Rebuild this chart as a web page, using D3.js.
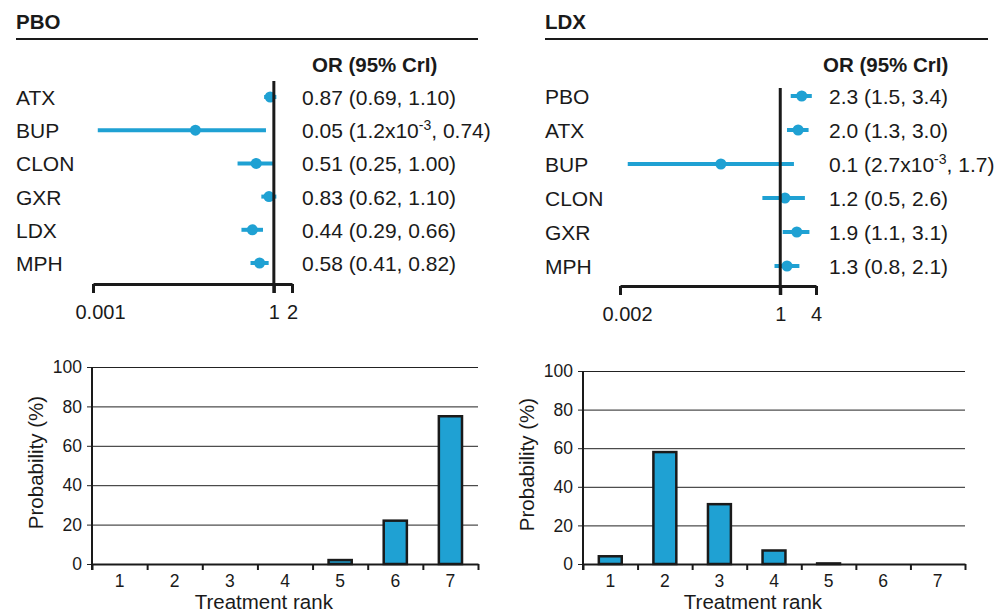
<!DOCTYPE html>
<html>
<head>
<meta charset="utf-8">
<script src="https://cdn.jsdelivr.net/npm/d3@7"></script>
<style>
  body { margin: 0; background: #fff; }
  svg { font-family: "Liberation Sans", Arial, sans-serif; }
</style>
</head>
<body>
<svg id="chart" width="1005" height="613"></svg>
<script>
// ---- data ----
const pboDrugs = ["ATX", "BUP", "CLON", "GXR", "LDX", "MPH"];
const pboOR = [0.87, 0.05, 0.51, 0.83, 0.44, 0.58];
const pboLow = [0.69, 0.0012, 0.25, 0.62, 0.29, 0.41];
const pboHigh = [1.10, 0.74, 1.00, 1.10, 0.66, 0.82];
const pboText = [
  "0.87 (0.69, 1.10)",
  "0.05 (1.2x10^-3, 0.74)",
  "0.51 (0.25, 1.00)",
  "0.83 (0.62, 1.10)",
  "0.44 (0.29, 0.66)",
  "0.58 (0.41, 0.82)",
];
const pboTicks = [0.001, 1, 2];

const ldxDrugs = ["PBO", "ATX", "BUP", "CLON", "GXR", "MPH"];
const ldxOR = [2.3, 2.0, 0.1, 1.2, 1.9, 1.3];
const ldxLow = [1.5, 1.3, 0.0027, 0.5, 1.1, 0.8];
const ldxHigh = [3.4, 3.0, 1.7, 2.6, 3.1, 2.1];
const ldxText = [
  "2.3 (1.5, 3.4)",
  "2.0 (1.3, 3.0)",
  "0.1 (2.7x10^-3, 1.7)",
  "1.2 (0.5, 2.6)",
  "1.9 (1.1, 3.1)",
  "1.3 (0.8, 2.1)",
];
const ldxTicks = [0.002, 1, 4];

const ranks = [1, 2, 3, 4, 5, 6, 7];
const probTicks = [0, 20, 40, 60, 80, 100];
const pboRankProb = [0, 0, 0, 0, 2, 22, 75];
const ldxRankProb = [4, 58, 31, 7, 0.3, 0, 0];

const blue = "#1fa1d3";
const ink = "#1a1a1a";
const fs = 21; // main text size
const svg = d3.select("#chart");

// write "a^-3b" with a raised exponent
function richText(sel, str) {
  const m = str.match(/^(.*)\^(-?\d+)(.*)$/);
  if (!m) { sel.text(str); return; }
  sel.append("tspan").text(m[1]);
  sel.append("tspan").attr("font-size", 14).attr("dy", -8).text(m[2]);
  sel.append("tspan").attr("dy", 8).text(m[3]);
}

/**
 * Forest plot of odds ratios on a log axis
 */
function forestPlot(cfg) {
  const g = svg.append("g");
  const rows = cfg.drugs.map((d, i) => ({
    drug: d, or: cfg.or[i], lo: cfg.low[i], hi: cfg.high[i], txt: cfg.text[i]
  }));

  // title and rule
  g.append("text")
    .attr("x", cfg.left).attr("y", 29)
    .attr("font-size", 20.5).attr("font-weight", "bold").attr("fill", ink)
    .text(cfg.title);
  g.append("line")
    .attr("x1", cfg.left).attr("x2", cfg.right)
    .attr("y1", 39).attr("y2", 39)
    .attr("stroke", ink).attr("stroke-width", 2);
  g.append("text")
    .attr("x", cfg.headX).attr("y", 72)
    .attr("font-size", 20.5).attr("font-weight", "bold").attr("fill", ink)
    .text("OR (95% CrI)");

  const x = d3.scaleLog()
    .domain([cfg.ticks[0], cfg.ticks[cfg.ticks.length - 1]])
    .range(cfg.xRange);
  const y = d3.scalePoint().domain(cfg.drugs).range(cfg.yRange);

  // bottom axis
  const axisG = g.append("g")
    .attr("transform", `translate(0,${cfg.axisY})`)
    .call(d3.axisBottom(x)
      .tickValues(cfg.ticks)
      .tickSize(9)
      .tickSizeOuter(0)
      .tickPadding(12)
      .tickFormat(d => String(d)));
  axisG.select(".domain").attr("stroke", ink).attr("stroke-width", 3);
  axisG.selectAll(".tick line").attr("stroke", ink).attr("stroke-width", 3);
  axisG.selectAll(".tick text")
    .attr("font-size", 20).attr("fill", ink)
    .attr("font-family", "Liberation Sans, Arial, sans-serif")
    .attr("dx", (d, i) => (i === 0 ? 7 : 0));

  // CI lines and points
  g.selectAll(".ci")
    .data(rows)
    .join("line")
    .attr("class", "ci")
    .attr("x1", d => x(d.lo)).attr("x2", d => x(d.hi))
    .attr("y1", d => y(d.drug)).attr("y2", d => y(d.drug))
    .attr("stroke", blue).attr("stroke-width", 4);
  g.selectAll(".pt")
    .data(rows)
    .join("circle")
    .attr("class", "pt")
    .attr("cx", d => x(d.or)).attr("cy", d => y(d.drug))
    .attr("r", 5.5).attr("fill", blue);

  // line of no effect
  g.append("line")
    .attr("x1", x(1)).attr("x2", x(1))
    .attr("y1", cfg.vTop).attr("y2", cfg.axisY + 9)
    .attr("stroke", ink).attr("stroke-width", 3);

  // row labels and values
  g.selectAll(".lab")
    .data(rows)
    .join("text")
    .attr("class", "lab")
    .attr("x", cfg.left).attr("y", d => y(d.drug) + 8)
    .attr("font-size", fs).attr("fill", ink)
    .text(d => d.drug);
  g.selectAll(".val")
    .data(rows)
    .join("text")
    .attr("class", "val")
    .attr("x", cfg.textX).attr("y", d => y(d.drug) + 8)
    .attr("font-size", fs).attr("fill", ink)
    .each(function (d) { richText(d3.select(this), d.txt); });
}

/**
 * Bar chart of rank probabilities
 */
function rankPlot(cfg) {
  const g = svg.append("g");
  const [x0, x1] = cfg.xRange;
  const w = x1 - x0;
  const x = d3.scaleBand().domain(ranks).range(cfg.xRange)
    .paddingInner(0.58).paddingOuter(0.29);
  const xEdge = d3.scaleLinear().domain([0, ranks.length]).range(cfg.xRange);
  const y = d3.scaleLinear().domain([0, 100]).range(cfg.yRange);

  // gridlines + y ticks
  const gy = g.append("g")
    .attr("transform", `translate(${x0 - 5},0)`)
    .call(d3.axisLeft(y).tickValues(probTicks).tickSize(-(w + 5)).tickPadding(5));
  gy.select(".domain").remove();
  gy.selectAll(".tick line").attr("stroke", "#222").attr("stroke-width", 1);
  gy.selectAll(".tick text")
    .attr("font-size", 17.5).attr("fill", ink)
    .attr("font-family", "Liberation Sans, Arial, sans-serif");

  // bars
  const data = ranks.map((r, i) => ({ rank: r, p: cfg.values[i] }));
  g.selectAll(".bar")
    .data(data.filter(d => d.p > 0))
    .join("rect")
    .attr("class", "bar")
    .attr("x", d => x(d.rank))
    .attr("width", x.bandwidth())
    .attr("y", d => y(d.p))
    .attr("height", d => y(0) - y(d.p))
    .attr("fill", blue).attr("stroke", ink).attr("stroke-width", 2.5);

  // y axis line
  g.append("line")
    .attr("x1", x0).attr("x2", x0)
    .attr("y1", y(100)).attr("y2", y(0) + 6)
    .attr("stroke", ink).attr("stroke-width", 2);

  // x axis: ticks between categories
  const gx = g.append("g")
    .attr("transform", `translate(0,${y(0)})`)
    .call(d3.axisBottom(xEdge).tickValues(d3.range(ranks.length + 1))
      .tickSize(6).tickSizeOuter(0).tickFormat(""));
  gx.select(".domain").attr("stroke", ink).attr("stroke-width", 2);
  gx.selectAll(".tick line").attr("stroke", ink).attr("stroke-width", 2);

  const gl = g.append("g")
    .attr("transform", `translate(0,${y(0)})`)
    .call(d3.axisBottom(x).tickSize(0).tickPadding(11));
  gl.select(".domain").remove();
  gl.selectAll(".tick text")
    .attr("font-size", 17.5).attr("fill", ink)
    .attr("font-family", "Liberation Sans, Arial, sans-serif");

  // axis titles
  g.append("text")
    .attr("x", x0 + w * 0.445).attr("y", 609)
    .attr("text-anchor", "middle")
    .attr("font-size", 20.5).attr("fill", ink)
    .text("Treatment rank");
  const cy = (cfg.yRange[0] + cfg.yRange[1]) / 2 - 3;
  g.append("text")
    .attr("transform", `translate(${x0 - 49},${cy}) rotate(-90)`)
    .attr("text-anchor", "middle")
    .attr("font-size", 20.5).attr("fill", ink)
    .text("Probability (%)");
}

forestPlot({
  title: "PBO", left: 16, right: 478, headX: 312, textX: 302,
  drugs: pboDrugs, or: pboOR, low: pboLow, high: pboHigh, text: pboText,
  ticks: pboTicks, xRange: [93, 292], yRange: [97, 263], axisY: 284, vTop: 81,
});
forestPlot({
  title: "LDX", left: 545, right: 988, headX: 823, textX: 829,
  drugs: ldxDrugs, or: ldxOR, low: ldxLow, high: ldxHigh, text: ldxText,
  ticks: ldxTicks, xRange: [620, 816], yRange: [96, 266], axisY: 286, vTop: 88,
});

rankPlot({ values: pboRankProb, xRange: [92, 478], yRange: [564, 367] });
rankPlot({ values: ldxRankProb, xRange: [583, 965], yRange: [564, 371] });
</script>
</body>
</html>
